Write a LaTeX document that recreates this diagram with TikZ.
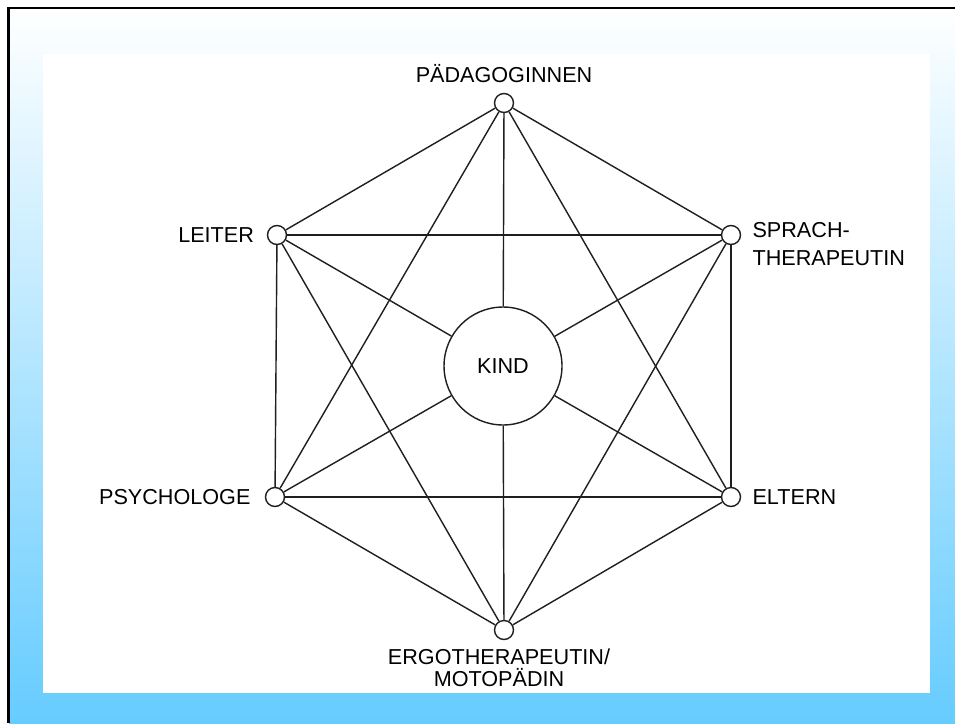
\documentclass[tikz,border=0pt]{standalone}
\usepackage{fontspec}
\setmainfont{Liberation Sans}
\usepackage{xcolor}
\usetikzlibrary{positioning}

\definecolor{skyb}{HTML}{66CCFF}
\definecolor{edgegray}{HTML}{1F1F1F}

\begin{document}
\begin{tikzpicture}[x=0.02cm, y=-0.02cm,
    member/.style={circle, draw=edgegray, fill=white, line width=0.8pt, minimum size=0.38cm, inner sep=0pt},
    centre/.style={circle, draw=edgegray, fill=white, line width=0.8pt, minimum size=2.36cm, inner sep=0pt, font=\fontsize{12.3}{14}\selectfont},
    role/.style={inner sep=0pt, font=\fontsize{12.3}{14}\selectfont},
    link/.style={draw=edgegray, line width=0.8pt}]

    % --- FRAME AND BACKGROUND ---
    \useasboundingbox (0,0) rectangle (955,723);
    \fill[white] (0,0) rectangle (955,723);
    \shade[top color=white, bottom color=skyb] (9,8) rectangle (955,723);
    \draw[black, line width=1.4pt] (8.7,723) -- (8.7,8) -- (955,8);
    \fill[white] (43,54) rectangle (930,693);

    % --- CHILD IN THE MIDDLE ---
    \node[centre] (kind) at (503,366) {KIND};

    % --- THE SIX PARTNERS ---
    \node[member] (paed)   at (504,103) {};
    \node[member] (leiter) at (277,235) {};
    \node[member] (sprach) at (731,235) {};
    \node[member] (psych)  at (275,497) {};
    \node[member] (eltern) at (731,497) {};
    \node[member] (ergo)   at (504,630) {};

    % Labels next to the circles
    \node[role, above=0.2cm of paed] (paedlbl) {PÄDAGOGINNEN};
    \node[role, left=0.25cm of leiter] (leiterlbl) {LEITER};
    \node[role, right=0.22cm of sprach.east, anchor=north west, yshift=0.26cm, align=left,
          font=\fontsize{12.3}{16}\selectfont] (sprachlbl) {SPRACH-\\THERAPEUTIN};
    \node[role, left=0.28cm of psych] (psychlbl) {PSYCHOLOGE};
    \node[role, right=0.22cm of eltern] (elternlbl) {ELTERN};
    \node[role, below=0.17cm of ergo, xshift=-0.1cm, align=center,
          font=\fontsize{12.3}{12.4}\selectfont] (ergolbl) {ERGOTHERAPEUTIN/\\MOTOPÄDIN};

    % --- CONNECTIONS: ring and two triangles ---
    \foreach \a/\b in {paed/sprach, sprach/eltern, eltern/ergo, ergo/psych, psych/leiter, leiter/paed,
                       paed/eltern, eltern/psych, psych/paed, leiter/sprach, sprach/ergo, ergo/leiter}
        \draw[link] (\a) -- (\b);

    % Spokes to the child
    \foreach \m in {paed, leiter, sprach, psych, eltern, ergo}
        \draw[link] (\m) -- (kind);

\end{tikzpicture}
\end{document}
